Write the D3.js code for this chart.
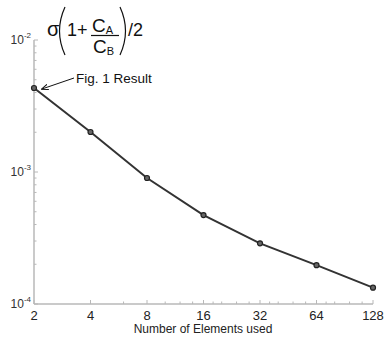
<!DOCTYPE html>
<html>
<head>
<meta charset="utf-8">
<script src="https://cdn.jsdelivr.net/npm/d3@7"></script>
<style>
  body { margin: 0; background: #fff; }
  svg { display: block; font-family: "Liberation Sans", Arial, sans-serif; }
</style>
</head>
<body>
<svg id="chart" width="384" height="339"></svg>
<script>
// data
const elements = [2, 4, 8, 16, 32, 64, 128];
const errorValues = [0.00433, 0.00201, 0.000901, 0.000472, 0.000288, 0.000197, 0.000133];
const xMajorTicks = [2, 4, 8, 16, 32, 64, 128];
const xMinorTicks = [6, 10, 12, 14, 18, 20, 24, 28, 36, 40, 48, 56, 72, 80, 96, 112];
const yMajorTicks = [1e-4, 1e-3, 1e-2];
const yTickExps = ['-4', '-3', '-2'];
const xTitle = 'Number of Elements used';
const noteText = 'Fig. 1 Result';

const svg = d3.select('#chart');
const plotLeft = 34, plotRight = 373, plotTop = 40, plotBottom = 304;

const x = d3.scaleLog().base(2).domain([2, 128]).range([plotLeft, plotRight]);
const y = d3.scaleLog().domain([1e-4, 1e-2]).range([plotBottom, plotTop]);

const axisColor = '#b8b8b8';

// y minor ticks
const yMinor = [];
[1e-4, 1e-3].forEach(b => { for (let k = 2; k <= 9; k++) yMinor.push(b * k); });

const g = svg.append('g');

// axis lines
g.append('line').attr('x1', plotLeft).attr('x2', plotLeft).attr('y1', plotTop).attr('y2', plotBottom)
    .attr('stroke', axisColor).attr('stroke-width', 1.5);
g.append('line').attr('x1', plotLeft).attr('x2', plotRight).attr('y1', plotBottom).attr('y2', plotBottom)
    .attr('stroke', axisColor).attr('stroke-width', 1.5);

// ticks pointing inward
g.selectAll('.ymaj').data(yMajorTicks).join('line')
    .attr('x1', plotLeft).attr('x2', plotLeft + 4)
    .attr('y1', d => y(d)).attr('y2', d => y(d))
    .attr('stroke', axisColor);
g.selectAll('.ymin').data(yMinor).join('line')
    .attr('x1', plotLeft).attr('x2', plotLeft + 2.5)
    .attr('y1', d => y(d)).attr('y2', d => y(d))
    .attr('stroke', axisColor);
g.selectAll('.xmaj').data(xMajorTicks).join('line')
    .attr('x1', d => x(d)).attr('x2', d => x(d))
    .attr('y1', plotBottom).attr('y2', plotBottom - 4)
    .attr('stroke', axisColor);
g.selectAll('.xmin').data(xMinorTicks).join('line')
    .attr('x1', d => x(d)).attr('x2', d => x(d))
    .attr('y1', plotBottom).attr('y2', plotBottom - 2.5)
    .attr('stroke', axisColor);

// y tick labels 10^n
yMajorTicks.forEach((d, i) => {
    const t = g.append('text')
        .attr('x', 31).attr('y', y(d) + 4)
        .attr('text-anchor', 'end')
        .attr('font-size', 12).attr('fill', '#333');
    t.append('tspan').text('10');
    t.append('tspan').attr('dy', -6).attr('font-size', 8).text(yTickExps[i]);
});

// x tick labels
g.selectAll('.xl').data(xMajorTicks).join('text')
    .attr('x', d => x(d)).attr('y', 320)
    .attr('text-anchor', 'middle')
    .attr('font-size', 13).attr('fill', '#222')
    .text(d => d);

g.append('text').attr('x', 203).attr('y', 333)
    .attr('text-anchor', 'middle').attr('font-size', 12).attr('fill', '#222')
    .text(xTitle);

// the series
const line = d3.line().x((d, i) => x(elements[i])).y(d => y(d));
g.append('path').datum(errorValues)
    .attr('d', line).attr('fill', 'none')
    .attr('stroke', '#333').attr('stroke-width', 2);
g.selectAll('.pt').data(errorValues).join('circle')
    .attr('cx', (d, i) => x(elements[i])).attr('cy', d => y(d))
    .attr('r', 2.5).attr('fill', '#666').attr('stroke', '#222').attr('stroke-width', 1.2);

// annotation arrow
const ax = x(elements[0]) + 8, ay = y(errorValues[0]) + 1;
svg.append('defs').append('marker')
    .attr('id', 'ah').attr('viewBox', '0 0 10 10').attr('refX', 9).attr('refY', 5)
    .attr('markerWidth', 7).attr('markerHeight', 7).attr('orient', 'auto')
    .append('path').attr('d', 'M0,1 L10,5 L0,9').attr('fill', 'none')
    .attr('stroke', '#111').attr('stroke-width', 1.5);
svg.append('line').attr('x1', 74).attr('y1', 78).attr('x2', ax).attr('y2', ay)
    .attr('stroke', '#111').attr('stroke-width', 1).attr('marker-end', 'url(#ah)');
svg.append('text').attr('x', 76).attr('y', 83).attr('font-size', 13.5).attr('fill', '#111')
    .text(noteText);

// formula  σ(1 + C_A / C_B)/2
const f = svg.append('g').attr('fill', '#111');
f.append('text').attr('x', 47).attr('y', 36).attr('font-size', 20).text('σ');
f.append('path').attr('d', 'M65,7 Q54,31 65,55').attr('fill', 'none').attr('stroke', '#111').attr('stroke-width', 1.2);
f.append('text').attr('x', 67).attr('y', 36).attr('font-size', 18).text('1+');
const ca = f.append('text').attr('x', 92).attr('y', 32).attr('font-size', 19);
ca.append('tspan').text('C');
ca.append('tspan').attr('font-size', 11).attr('dy', 2).text('A');
f.append('line').attr('x1', 91).attr('x2', 119).attr('y1', 35.5).attr('y2', 35.5)
    .attr('stroke', '#111').attr('stroke-width', 1.2);
const cb = f.append('text').attr('x', 93).attr('y', 53).attr('font-size', 19);
cb.append('tspan').text('C');
cb.append('tspan').attr('font-size', 11).attr('dy', 2).text('B');
f.append('path').attr('d', 'M120,7 Q131,31 120,55').attr('fill', 'none').attr('stroke', '#111').attr('stroke-width', 1.2);
f.append('text').attr('x', 128).attr('y', 36).attr('font-size', 18).text('/2');
</script>
</body>
</html>
